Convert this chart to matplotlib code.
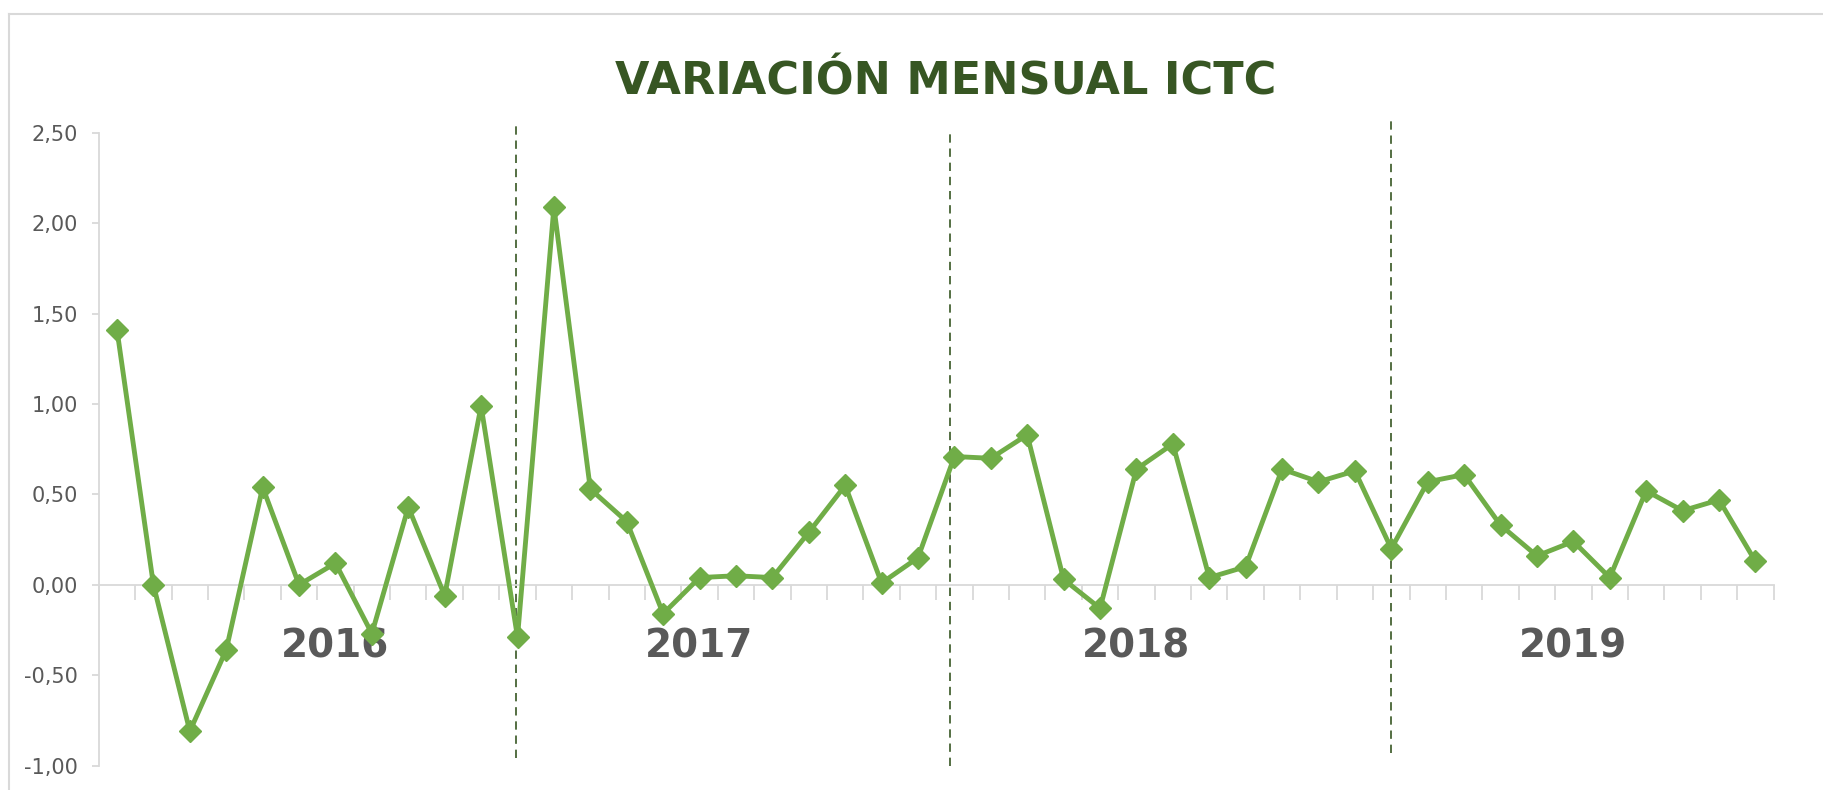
import matplotlib.pyplot as plt
from matplotlib.ticker import FuncFormatter, FixedLocator
from matplotlib.lines import Line2D

FIG_SIZE = (18.23, 7.90)
DPI = 100

TITLE = "VARIACIÓN MENSUAL ICTC"
YEARS = ["2016", "2017", "2018", "2019"]

# monthly values per year
VALUES_2016 = [1.41, 0.00, -0.81, -0.36, 0.54, 0.00, 0.12, -0.27, 0.43, -0.06, 0.99, -0.29]
VALUES_2017 = [2.09, 0.53, 0.35, -0.16, 0.04, 0.05, 0.04, 0.29, 0.55, 0.01, 0.15, 0.71]
VALUES_2018 = [0.70, 0.83, 0.03, -0.13, 0.64, 0.78, 0.04, 0.10, 0.64, 0.57, 0.63, 0.20]
VALUES_2019 = [0.57, 0.61, 0.33, 0.16, 0.24, 0.04, 0.52, 0.41, 0.47, 0.13]

# year label positions (category index) and dashed separators
YEAR_LABEL_X = [6, 16, 28, 40]
YEAR_LABEL_Y = -0.34
SEPARATORS = [(10.95, -0.96, 2.56), (22.88, -1.00, 2.52), (35.0, -0.93, 2.59)]

Y_TICKS = [-1.0, -0.5, 0.0, 0.5, 1.0, 1.5, 2.0, 2.5]

LINE_GREEN = '#70AD47'
DARK_GREEN = '#375623'
GREY_TEXT = '#595959'
GREY_AXIS = '#D9D9D9'


def comma_fmt(v, _):
    return f"{v:.2f}".replace('.', ',')


def render():
    values = VALUES_2016 + VALUES_2017 + VALUES_2018 + VALUES_2019
    x = list(range(len(values)))

    fig = plt.figure(figsize=FIG_SIZE, dpi=DPI)
    ax = fig.add_axes([0.0542, 0.0310, 0.9187, 0.8006])

    ax.plot(x, values, color=LINE_GREEN, lw=3.5, marker='D', ms=11,
            markerfacecolor=LINE_GREEN, markeredgecolor=LINE_GREEN, zorder=3)

    ax.set_xlim(-0.5, len(values) - 0.5)
    ax.set_ylim(-1.0, 2.5)

    # spines: y axis on left, category axis sitting on zero
    for side in ['top', 'right']:
        ax.spines[side].set_visible(False)
    ax.spines['left'].set_color(GREY_AXIS)
    ax.spines['left'].set_linewidth(1.3)
    ax.spines['bottom'].set_position(('data', 0))
    ax.spines['bottom'].set_color(GREY_AXIS)
    ax.spines['bottom'].set_linewidth(1.3)

    ax.yaxis.set_major_locator(FixedLocator(Y_TICKS))
    ax.yaxis.set_major_formatter(FuncFormatter(comma_fmt))
    ax.tick_params(axis='y', colors=GREY_AXIS, labelcolor=GREY_TEXT,
                   labelsize=15, length=5, width=1.3, pad=10)

    ax.xaxis.set_major_locator(FixedLocator([i - 0.5 for i in range(len(values) + 1)]))
    ax.tick_params(axis='x', colors=GREY_AXIS, length=11, width=1.3,
                   direction='out', labelbottom=False)

    for sx, y0, y1 in SEPARATORS:
        ax.plot([sx, sx], [y0, y1], color=DARK_GREEN, lw=1.2,
                ls=(0, (5, 3.5)), clip_on=False, zorder=2)

    for label, lx in zip(YEARS, YEAR_LABEL_X):
        ax.text(lx, YEAR_LABEL_Y, label, fontsize=28, fontweight='bold',
                color=GREY_TEXT, ha='center', va='center', zorder=1)

    fig.text(0.5185, 0.896, TITLE, fontsize=32, fontweight='bold',
             color=DARK_GREEN, ha='center', va='center')

    # chart area border (top and left edges visible)
    fig.add_artist(Line2D([0.0051, 0.0051], [0.0, 0.9819], color=GREY_AXIS,
                          lw=1.5, transform=fig.transFigure))
    fig.add_artist(Line2D([0.0051, 1.0], [0.9819, 0.9819], color=GREY_AXIS,
                          lw=1.5, transform=fig.transFigure))

    fig.savefig('out.png', dpi=DPI)


render()
